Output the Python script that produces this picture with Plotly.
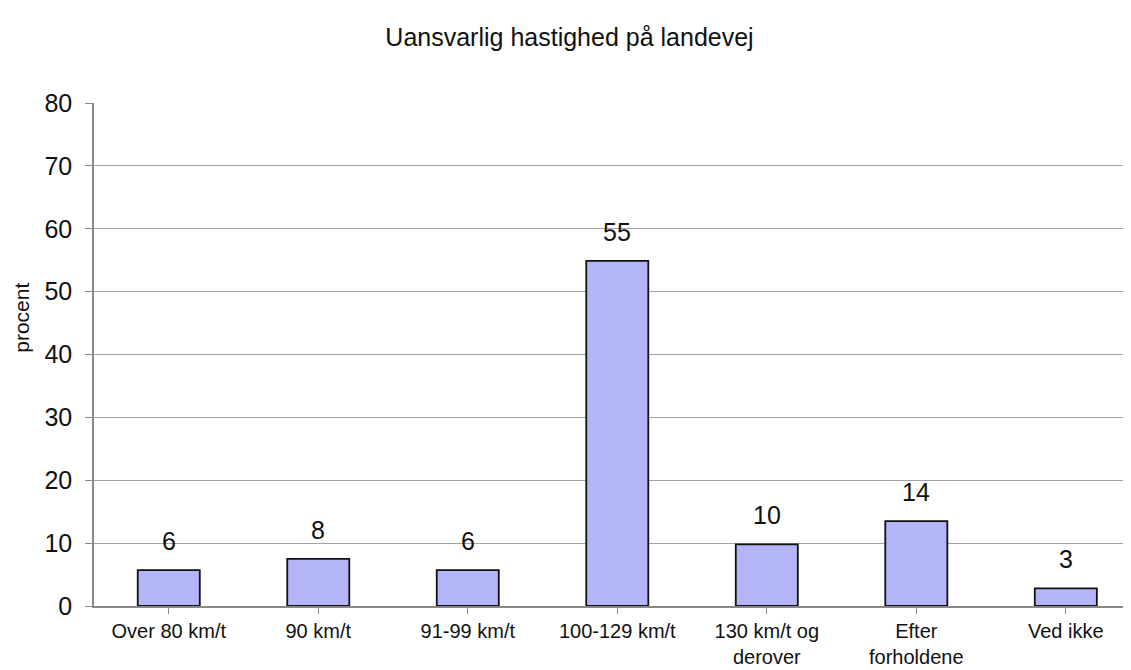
import plotly.graph_objects as go

categories = ["Over 80 km/t", "90 km/t", "91-99 km/t", "100-129 km/t",
              "130 km/t og<br>derover", "Efter<br>forholdene", "Ved ikke"]
values = [5.7, 7.5, 5.7, 54.9, 9.8, 13.5, 2.8]
value_labels = ["6", "8", "6", "55", "10", "14", "3"]
y_ticks = [0, 10, 20, 30, 40, 50, 60, 70, 80]

FONT = "Liberation Sans, Arial, sans-serif"
W, H = 1123, 662

fig = go.Figure(go.Bar(
    x=list(range(len(categories))),
    y=values,
    width=0.415,
    marker=dict(color="#b4b4f8", line=dict(color="#111", width=1.8)),
    hoverinfo="skip",
))

for i, (v, lab) in enumerate(zip(values, value_labels)):
    fig.add_annotation(x=i, y=v, text=lab, showarrow=False, yanchor="bottom",
                       yshift=13, font=dict(family=FONT, size=25, color="#111"))

fig.add_annotation(xref="paper", yref="paper", x=-72 / 1037, y=0.573,
                   text="procent", textangle=-90, showarrow=False,
                   xanchor="center", yanchor="middle",
                   font=dict(family=FONT, size=21, color="#111"))

fig.update_layout(
    width=W, height=H,
    paper_bgcolor="white", plot_bgcolor="white",
    margin=dict(l=86, r=0, t=95, b=63.5),
    showlegend=False,
    title=dict(text="Uansvarlig hastighed på landevej", x=0.5, xanchor="center",
               y=1 - 29 / H, yanchor="middle",
               font=dict(family=FONT, size=25, color="#111")),
    font=dict(family=FONT, color="#111"),
)

fig.update_xaxes(
    tickmode="array", tickvals=list(range(len(categories))), ticktext=categories,
    range=[-0.5, 6.436],
    tickson="boundaries", ticks="outside", ticklen=6, tickcolor="#888",
    showline=True, linecolor="#888", linewidth=1.5,
    showgrid=False, zeroline=False,
    tickfont=dict(family=FONT, size=20, color="#111"),
)
fig.update_yaxes(
    range=[0, 80], tickvals=y_ticks,
    ticks="outside", ticklen=7, tickcolor="#888",
    showline=True, linecolor="#888", linewidth=1.5,
    showgrid=True, gridcolor="#a4a4a4", gridwidth=1.2,
    zeroline=False, ticklabelstandoff=8,
    tickfont=dict(family=FONT, size=25, color="#111"),
)

fig.write_html("out.html")
